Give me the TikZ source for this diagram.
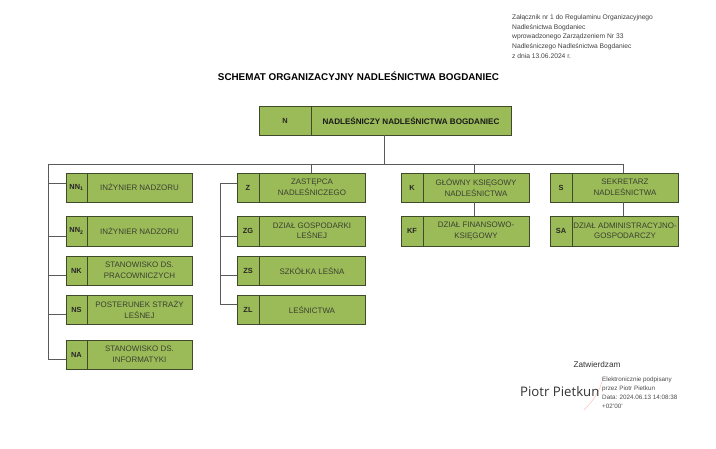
\documentclass[tikz,border=0pt]{standalone}
\usepackage{fontspec}
\setmainfont{Liberation Sans}
\newfontfamily\signfont{Open Sans}
\definecolor{boxgreen}{HTML}{9BBB59}
\definecolor{boxline}{HTML}{3F4A2A}
\definecolor{linkgray}{HTML}{5A5A5A}
\definecolor{inktext}{HTML}{3A4030}
\tikzset{
  codebox/.style={draw=boxline,line width=0.8pt,fill=boxgreen,inner sep=0pt,outer sep=0pt,anchor=north west,align=center,text=black!85,font=\fontsize{7.4}{8}\selectfont\bfseries},
  labelbox/.style={draw=boxline,line width=0.8pt,fill=boxgreen,inner sep=0pt,outer sep=0pt,anchor=north west,align=center,text=inktext,font=\fontsize{7.95}{10.5}\selectfont},
  toplabel/.style={labelbox,text=black!90,font=\fontsize{8.1}{9}\selectfont\bfseries},
  link/.style={draw=linkgray,line width=1pt},
  note/.style={inner sep=0pt,anchor=west,text=black!75,font=\fontsize{6.7}{7}\selectfont},
  signnote/.style={inner sep=0pt,anchor=west,text=black!70,font=\fontsize{6.3}{7}\selectfont},
}
% name, x1, xdiv, x2, y1, y2, code, label, label style
\newcommand{\orgbox}[9]{%
  \pgfmathsetmacro{\wa}{#3-#2}\pgfmathsetmacro{\wb}{#4-#3}\pgfmathsetmacro{\hh}{#6-#5}%
  \node[codebox,minimum width=\wa pt,minimum height=\hh pt] (#1c) at (#2,#5) {#7};
  \node[#9,minimum width=\wb pt,minimum height=\hh pt] (#1) at (#3,#5) {#8};
}
\begin{document}
\begin{tikzpicture}[x=1pt,y=-1pt]
\useasboundingbox (0,0) rectangle (716,448);
\fill[white] (0,0) rectangle (716,448);
% header note
\node[note] (h1) at (512,17.5) {Załącznik nr 1 do Regulaminu Organizacyjnego};
\node[note] (h2) at (512,27.5) {Nadleśnictwa Bogdaniec};
\node[note] (h3) at (512,37) {wprowadzonego Zarządzeniem Nr 33};
\node[note] (h4) at (512,46.5) {Nadleśniczego Nadleśnictwa Bogdaniec};
\node[note] (h5) at (512,56) {z dnia 13.06.2024 r.};
\node[inner sep=0pt,font=\fontsize{9.85}{12}\selectfont\bfseries] (title) at (358.5,76) {SCHEMAT ORGANIZACYJNY NADLEŚNICTWA BOGDANIEC};
% boxes
\orgbox{n}{259}{311}{511}{106}{135}{N}{NADLEŚNICZY NADLEŚNICTWA BOGDANIEC}{toplabel}
\orgbox{nna}{66}{87}{192}{173}{202}{NN\textsubscript{1}}{INŻYNIER NADZORU}{labelbox}
\orgbox{nnb}{66}{87}{192}{216}{246}{NN\textsubscript{2}}{INŻYNIER NADZORU}{labelbox}
\orgbox{nk}{66}{87}{192}{256}{285}{NK}{STANOWISKO DS.\\PRACOWNICZYCH}{labelbox}
\orgbox{ns}{66}{87}{192}{295}{324}{NS}{POSTERUNEK STRAŻY\\LEŚNEJ}{labelbox}
\orgbox{na}{66}{87}{192}{340}{369}{NA}{STANOWISKO DS.\\INFORMATYKI}{labelbox}
\orgbox{z}{237}{259}{365}{173}{202}{Z}{ZASTĘPCA\\NADLEŚNICZEGO}{labelbox}
\orgbox{zg}{237}{259}{365}{216}{246}{ZG}{DZIAŁ GOSPODARKI\\LEŚNEJ}{labelbox}
\orgbox{zs}{237}{259}{365}{256}{285}{ZS}{SZKÓŁKA LEŚNA}{labelbox}
\orgbox{zl}{237}{259}{365}{295}{324}{ZL}{LEŚNICTWA}{labelbox}
\orgbox{k}{401}{423}{529}{173}{202}{K}{GŁÓWNY KSIĘGOWY\\NADLEŚNICTWA}{labelbox}
\orgbox{kf}{401}{423}{529}{216}{246}{KF}{DZIAŁ FINANSOWO-\\KSIĘGOWY}{labelbox}
\orgbox{s}{550}{572}{678}{173}{202}{S}{SEKRETARZ\\NADLEŚNICTWA}{labelbox}
\orgbox{sa}{550}{572}{678}{216}{246}{SA}{DZIAŁ ADMINISTRACYJNO-\\GOSPODARCZY}{labelbox}
% bus coordinates
\coordinate (trunktop) at (384,135);
\coordinate (trunkbot) at (384,164);
\coordinate (busl) at (48,164);
\coordinate (busz) at (311,164);
\coordinate (busk) at (474,164);
\coordinate (buss) at (623,164);
\coordinate (leftend) at (48,359);
\coordinate (zbus) at (220,183);
% connectors
\draw[link] (trunktop) -- (trunkbot);
\draw[link] (busl) -- (buss);
\draw[link] (busz) -- (busz |- zc.north);
\draw[link] (busk) -- (busk |- kc.north);
\draw[link] (buss) -- (buss |- sc.north);
\draw[link] (busl) -- (leftend);
\draw[link] (48,183) -- (48,183 -| nnac.west);
\draw[link] (48,236) -- (48,236 -| nnbc.west);
\draw[link] (48,275) -- (48,275 -| nkc.west);
\draw[link] (48,314) -- (48,314 -| nsc.west);
\draw[link] (leftend) -- (leftend -| nac.west);
\draw[link] (zbus) -- (220,304);
\draw[link] (zbus) -- (zbus -| zc.west);
\draw[link] (220,236) -- (220,236 -| zgc.west);
\draw[link] (220,275) -- (220,275 -| zsc.west);
\draw[link] (220,304) -- (220,304 -| zlc.west);
\draw[link] (474,202) -- (474,216);
\draw[link] (623,202) -- (623,216);
% signature
\draw[red!25,line width=0.5pt] (603,378) .. controls (600,392) and (592,402) .. (584,410);
\node[inner sep=0pt,text=black!80,font=\fontsize{8.2}{9}\selectfont] (zat) at (597,364.5) {Zatwierdzam};
\node[inner sep=0pt,anchor=west,text=black!80,font=\signfont\fontsize{13.2}{15}\selectfont] (sig) at (520,392) {Piotr Pietkun};
\node[signnote] (s1) at (602,379.5) {Elektronicznie podpisany};
\node[signnote] (s2) at (602,388.5) {przez Piotr Pietkun};
\node[signnote] (s3) at (602,397) {Data: 2024.06.13 14:08:38};
\node[signnote] (s4) at (602,406) {+02'00'};
\end{tikzpicture}
\end{document}
